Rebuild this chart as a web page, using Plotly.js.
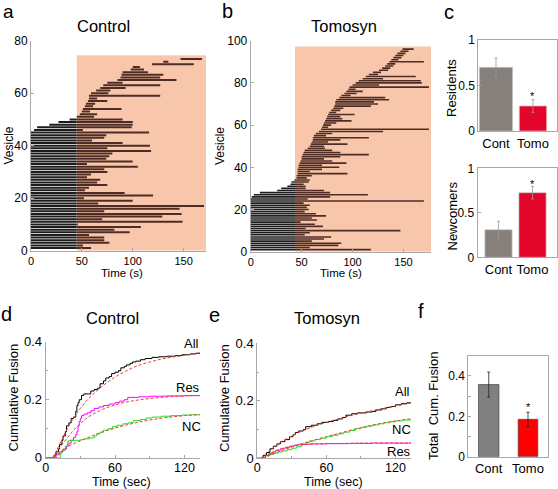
<!DOCTYPE html>
<html><head><meta charset="utf-8">
<script src="https://cdn.plot.ly/plotly-3.0.1.min.js"></script>
<style>html,body{margin:0;padding:0;background:#fff}#chart{width:558px;height:489px}</style>
</head><body><div id="chart"></div>
<script>
// ---------- DATA ----------
// Panel a (Control): per-vesicle start / end times (s)
const ctrlStart = [0,0,0,0,0,0,0,0,0,0, 0,0,0,0,0,0,0,0,0,0, 0,0,0,0,0,0,0,0,0,0, 0,0,0,0,0,0,0,0,0,0, 0,0,0,0,0,
  3,6,18,27,38, 45,48,50,51,53,54,56,57,57,59, 64,68,71,75,85,88,89,90,98,100, 119,130,147];
const ctrlEnd = [59,51,77,72,72,57,97,82,108,46, 149,70,129,148,72,146,170,66,100,52,
  120,92,53,57,75,65,68,55,59,75, 72,105,55,100,74,77,80,118,75,117, 90,60,72,74,116,
  51,99,100,100,90, 62,65,58,89,61,63,75,65,127,76, 78,93,127,90,143,127,130,115,111,107, 160,135,168];
// Panel b (Tomosyn)
const tomoStart = [0,0,0,0,0,0,0,0,0,0, 0,0,0,0,0,0,0,0,0,0, 0,0,0,0,0,
  1,3,9,26,30, 36,39,40,43,45,45,46,46,46,47, 47,48,49,50,50,51,52,53,56,58,
  59,60,61,61,62,64,67,69,70,71, 72,73,74,75,76,77,79,81,82,83, 83,84,87,89,92,94,96,97,100,103,
  106,110,113,116,120,126,129,132,134,136, 138,140,142,144,147,149];
const tomoEnd = [118,58,86,89,60,72,79,53,58,147, 54,71,63,49,65,60,74,64,53,57, 55,58,52,170,56,
  78,115,78,72,54, 54,52,57,58,55,60,95,58,70,87, 70,94,80,72,88,116,88,80,73,72,
  95,76,88,116,74,80,130,175,76,79, 84,99,90,88,102,84,88,91,118,125, 121,136,132,98,104,110,103,175,126,168,
  167,130,162,125,128,135,137,140,142,170, 145,148,150,152,155,160];
const stimOnsetA = 45, stimOnsetB = 43.5;

// Panel c bar data
const barCats = ['Cont', 'Tomo'];
const residents = [0.70, 0.275];
const residentsErr = [0.10, 0.07];
const newcomers = [0.31, 0.726];
const newcomersErr = [0.095, 0.07];
// Panel f
const totalFusion = [0.357, 0.185];
const totalFusionErr = [0.062, 0.035];

// Panel d (Control cumulative fusion)
const dAllT = [0,7,8,9,11,12,14,15,17,18,20,22,24,26,27,28,29,31,33,37,39,42,45,47,50,52,55,57,60,63,65,68,70,73,75,78,82,86,92,98,105,112,118,125,130,134];
const dAllY = [0,0,0.01,0.02,0.03,0.045,0.06,0.075,0.09,0.11,0.12,0.135,0.14,0.16,0.18,0.19,0.2,0.215,0.22,0.22,0.23,0.235,0.24,0.255,0.265,0.275,0.28,0.29,0.295,0.3,0.31,0.315,0.32,0.325,0.33,0.333,0.338,0.342,0.346,0.348,0.35,0.352,0.355,0.358,0.36,0.36];
const dAllFitT = [6,10,15,20,25,30,35,40,50,60,70,80,90,100,110,120,134];
const dAllFitY = [0,0.03,0.07,0.11,0.142,0.17,0.195,0.215,0.25,0.278,0.3,0.318,0.33,0.34,0.347,0.353,0.362];
const dResT = [0,7,9,12,15,18,20,22,24,26,27,28,29,30,31,33,36,39,42,46,50,55,60,64,68,71,80,90,105,120,134];
const dResY = [0,0,0.01,0.02,0.03,0.04,0.05,0.06,0.07,0.08,0.09,0.11,0.125,0.135,0.145,0.15,0.155,0.162,0.17,0.175,0.18,0.185,0.19,0.195,0.2,0.208,0.21,0.212,0.213,0.214,0.215];
const dResFitT = [6,10,15,20,25,30,35,40,50,60,70,80,90,100,110,120,134];
const dResFitY = [0,0.025,0.05,0.075,0.098,0.118,0.135,0.148,0.168,0.182,0.192,0.199,0.204,0.208,0.211,0.213,0.215];
const dNcT = [0,12,13,14,17,19,20,30,33,38,42,44,47,50,54,58,62,67,72,76,82,87,92,100,108,118,126,134];
const dNcY = [0,0,0.015,0.025,0.04,0.055,0.06,0.062,0.065,0.068,0.075,0.082,0.088,0.095,0.1,0.108,0.112,0.117,0.122,0.128,0.132,0.137,0.14,0.143,0.145,0.147,0.148,0.149];
const dNcFitT = [6,10,15,20,30,40,50,60,70,80,90,100,110,120,134];
const dNcFitY = [0,0.012,0.025,0.04,0.058,0.075,0.09,0.102,0.113,0.122,0.13,0.136,0.141,0.145,0.149];

// Panel e (Tomosyn cumulative fusion)
const eAllT = [0,3,5,8,11,14,17,20,24,28,31,33,36,40,42,47,52,56,62,66,70,74,77,82,87,95,100,103,108,112,116,120,125,130,134];
const eAllY = [0,0,0.01,0.02,0.033,0.042,0.05,0.058,0.065,0.075,0.082,0.09,0.095,0.1,0.11,0.115,0.12,0.125,0.128,0.132,0.137,0.142,0.15,0.155,0.158,0.161,0.163,0.168,0.172,0.177,0.18,0.186,0.19,0.193,0.196];
const eAllFitT = [3,10,20,30,40,50,60,70,80,90,100,110,120,134];
const eAllFitY = [0,0.025,0.055,0.078,0.097,0.112,0.125,0.136,0.147,0.157,0.166,0.174,0.182,0.193];
const eNcT = [0,5,7,10,14,18,22,26,30,34,38,42,45,50,55,60,65,70,75,80,85,90,95,100,105,110,115,120,126,134];
const eNcY = [0,0,0.008,0.013,0.018,0.022,0.026,0.03,0.035,0.04,0.048,0.055,0.06,0.065,0.07,0.075,0.08,0.085,0.091,0.097,0.103,0.108,0.112,0.116,0.12,0.124,0.127,0.13,0.133,0.136];
const eNcFitT = [5,20,40,60,80,100,120,134];
const eNcFitY = [0,0.025,0.052,0.075,0.096,0.115,0.13,0.138];
const eResT = [0,5,7,10,13,16,20,24,28,32,36,45,60,80,100,134];
const eResY = [0,0,0.01,0.016,0.022,0.028,0.033,0.037,0.042,0.046,0.049,0.05,0.051,0.052,0.053,0.053];
const eResFitT = [5,10,20,30,40,50,60,80,100,134];
const eResFitY = [0,0.014,0.032,0.042,0.047,0.05,0.051,0.052,0.053,0.053];

// ---------- BUILD ----------
const W = 558, H = 489;
const F = '"Liberation Sans", Arial, Helvetica, sans-serif';
const dx = (a, b) => [a / W, b / W];
const dy = (top, bot) => [1 - bot / H, 1 - top / H];

function segs(starts, ends, cut, xa, ya, lw) {
  const bx = [], by = [], rx = [], ry = [];
  for (let i = 0; i < starts.length; i++) {
    const v = i + 1, s = starts[i], e = ends[i];
    if (s < cut) { bx.push(s, Math.min(e, cut), null); by.push(v, v, null); }
    if (e > cut) { rx.push(Math.max(s, cut), e, null); ry.push(v, v, null); }
  }
  return [
    {type:'scatter', mode:'lines', x:bx, y:by, xaxis:xa, yaxis:ya, line:{color:'#1c1c1c', width:lw}, hoverinfo:'skip'},
    {type:'scatter', mode:'lines', x:rx, y:ry, xaxis:xa, yaxis:ya, line:{color:'#4e2c24', width:lw}, hoverinfo:'skip'}
  ];
}
function stepLine(t, y, color, xa, ya) {
  return {type:'scatter', mode:'lines', x:t, y:y, xaxis:xa, yaxis:ya, line:{color:color, width:1, shape:'hv'}, hoverinfo:'skip'};
}
function fitLine(t, y, xa, ya) {
  return {type:'scatter', mode:'lines', x:t, y:y, xaxis:xa, yaxis:ya, line:{color:'#e8402e', width:1, dash:'3px,2px', shape:'spline'}, hoverinfo:'skip'};
}
function bars(vals, errs, xa, ya, colors, widths, lineCol, errCol) {
  return {type:'bar', x:[1,2], y:vals, width:widths, xaxis:xa, yaxis:ya,
    marker:{color:colors, line:{color:lineCol, width:0.7}},
    error_y:{type:'data', array:errs, visible:true, color:errCol, thickness:0.8, width:1.5},
    hoverinfo:'skip'};
}

const traces = [
  ...segs(ctrlStart, ctrlEnd, stimOnsetA, 'x', 'y', 2.0),
  ...segs(tomoStart, tomoEnd, stimOnsetB, 'x2', 'y2', 1.6),
  bars(residents, residentsErr, 'x3', 'y3', ['#85807b', '#e3062a'], [0.9, 0.74], '#cfcac5', '#9a9a9a'),
  bars(newcomers, newcomersErr, 'x4', 'y4', ['#85807b', '#e3062a'], [0.8, 0.8], '#cfcac5', '#9a9a9a'),
  stepLine(dAllT, dAllY, '#000000', 'x5', 'y5'),
  stepLine(dResT, dResY, '#ff00ff', 'x5', 'y5'),
  stepLine(dNcT, dNcY, '#22dd22', 'x5', 'y5'),
  fitLine(dAllFitT, dAllFitY, 'x5', 'y5'),
  fitLine(dResFitT, dResFitY, 'x5', 'y5'),
  fitLine(dNcFitT, dNcFitY, 'x5', 'y5'),
  stepLine(eAllT, eAllY, '#000000', 'x6', 'y6'),
  stepLine(eNcT, eNcY, '#22dd22', 'x6', 'y6'),
  stepLine(eResT, eResY, '#ff00ff', 'x6', 'y6'),
  fitLine(eAllFitT, eAllFitY, 'x6', 'y6'),
  fitLine(eNcFitT, eNcFitY, 'x6', 'y6'),
  fitLine(eResFitT, eResFitY, 'x6', 'y6'),
  bars(totalFusion, totalFusionErr, 'x7', 'y7', ['#808080', '#ff0000'], [0.52, 0.5], '#444444', '#222222')
];

const AX = '#a8a8a8';
function ax(extra) {
  return Object.assign({showline:true, linecolor:AX, linewidth:1, ticks:'inside', ticklen:3, tickcolor:AX,
    showgrid:false, zeroline:false, fixedrange:true, tickfont:{family:F, size:12, color:'#000'}}, extra);
}
const f11 = {family:F, size:11, color:'#000'};
const f125 = {family:F, size:12.5, color:'#000'};

const layout = {
  width:W, height:H, margin:{l:0, r:0, t:0, b:0}, showlegend:false,
  paper_bgcolor:'#fff', plot_bgcolor:'rgba(0,0,0,0)', font:{family:F, color:'#000'},
  barmode:'group',
  xaxis: ax({domain:dx(31,206), range:[0,172], tickvals:[0,50,100,150], anchor:'y', tickfont:f11}),
  yaxis: ax({domain:dy(40.7,250.7), range:[0,80], tickvals:[0,20,40,60,80], anchor:'x'}),
  xaxis2: ax({domain:dx(250.7,431), range:[0,177], tickvals:[0,50,100,150], anchor:'y2', tickfont:f11}),
  yaxis2: ax({domain:dy(40.7,251.7), range:[0,100], tickvals:[0,20,40,60,80,100], anchor:'x2'}),
  xaxis3: ax({domain:dx(478.3,557.3), range:[0.522,2.657], tickvals:[1,2], ticktext:barCats, ticks:'', mirror:true, anchor:'y3', tickfont:{family:F, size:13, color:'#000'}}),
  yaxis3: ax({domain:dy(40,131), range:[0,1], tickvals:[0,0.5,1], ticktext:['0','0.5','1'], mirror:true, anchor:'x3'}),
  xaxis4: ax({domain:dx(477.5,557), range:[0.383,2.72], tickvals:[1,2], ticktext:barCats, ticks:'', mirror:true, anchor:'y4', tickfont:{family:F, size:13, color:'#000'}}),
  yaxis4: ax({domain:dy(168.3,257.3), range:[0,1], tickvals:[0,0.5,1], ticktext:['0','0.5','1'], mirror:true, anchor:'x4'}),
  xaxis5: ax({domain:dx(45.7,200), range:[0,133.5], tickvals:[0,60,120], anchor:'y5', tickfont:f125, ticklabelstandoff:-2, minor:{dtick:30, ticks:'inside', ticklen:2, tickcolor:AX}}),
  yaxis5: ax({domain:dy(341.7,457.7), range:[0,0.4], tickvals:[0,0.2,0.4], ticktext:['0','0.2','0.4'], anchor:'x5', tickfont:{family:F, size:13, color:'#000'}, minor:{dtick:0.1, ticks:'inside', ticklen:2, tickcolor:AX}}),
  xaxis6: ax({domain:dx(257.3,411), range:[0,133.5], tickvals:[0,60,120], anchor:'y6', tickfont:f125, ticklabelstandoff:-2, minor:{dtick:30, ticks:'inside', ticklen:2, tickcolor:AX}}),
  yaxis6: ax({domain:dy(343.3,458.3), range:[0,0.4], tickvals:[0,0.2,0.4], ticktext:['0','0.2','0.4'], anchor:'x6', tickfont:{family:F, size:13, color:'#000'}, minor:{dtick:0.1, ticks:'inside', ticklen:2, tickcolor:AX}}),
  xaxis7: ax({domain:dx(468.3,548.3), range:[0.48,2.517], tickvals:[1,2], ticktext:barCats, ticks:'', mirror:true, anchor:'y7', tickfont:{family:F, size:13, color:'#000'}}),
  yaxis7: ax({domain:dy(355.7,456.7), range:[0,0.5], tickvals:[0,0.1,0.2,0.3,0.4], ticktext:['0','','0.2','','0.4'], mirror:true, anchor:'x7'}),
  shapes: [
    {type:'rect', xref:'x', yref:'y', x0:stimOnsetA, x1:172, y0:0, y1:74.5, fillcolor:'#f8c7ab', line:{width:0}, layer:'below'},
    {type:'rect', xref:'x2', yref:'y2', x0:stimOnsetB, x1:177, y0:0, y1:97.2, fillcolor:'#f8c7ab', line:{width:0}, layer:'below'}
  ],
  annotations: []
};

function ann(text, px, py, size, extra) {
  layout.annotations.push(Object.assign({text:text, xref:'paper', yref:'paper', x:px / W, y:1 - py / H,
    xanchor:'center', yanchor:'middle', showarrow:false, font:{family:F, size:size, color:'#000'}}, extra || {}));
}
// panel letters
layout.annotations.push({text:'a', xref:'paper', yref:'paper', x:8 / W, y:1, xanchor:'center', yanchor:'top',
  borderpad:0, showarrow:false, font:{family:F, size:19, color:'#000'}});
ann('b', 227, 11, 20); ann('c', 449, 11.5, 20);
ann('d', 6, 314, 20); ann('e', 214, 315, 20); ann('f', 421, 311, 20);
// titles
ann('Control', 103, 26, 16.5); ann('Tomosyn', 344, 26, 16.5);
ann('Control', 112, 318, 16.5); ann('Tomosyn', 327, 318, 16.5);
// axis titles
ann('Vesicle', 8.5, 146, 12, {textangle:-90});
ann('Time (s)', 121.5, 273, 11.5);
ann('Vesicle', 220, 146, 12, {textangle:-90});
ann('Time (s)', 341, 273, 11.5);
ann('Residents', 451.5, 87.5, 13, {textangle:-90});
ann('Newcomers', 451.5, 216, 13, {textangle:-90});
ann('Cumulative Fusion', 12.5, 398, 13, {textangle:-90});
ann('Time (sec)', 121, 481.5, 12.5);
ann('Cumulative Fusion', 224, 398, 13, {textangle:-90});
ann('Time (sec)', 333.5, 481.5, 12.5);
ann('Total  Cum. Fusion', 433.5, 406.5, 13, {textangle:-90});
// curve labels
ann('All', 191, 343, 13); ann('Res', 188, 387, 13); ann('NC', 191, 426, 13);
ann('All', 402, 391, 13); ann('NC', 401, 429, 13); ann('Res', 399, 451, 13);
// significance asterisks
layout.annotations.push({text:'*', xref:'x3', yref:'y3', x:2, y:0.38, showarrow:false, font:{family:F, size:11, color:'#000'}});
layout.annotations.push({text:'*', xref:'x4', yref:'y4', x:2, y:0.82, showarrow:false, font:{family:F, size:11, color:'#000'}});
layout.annotations.push({text:'*', xref:'x7', yref:'y7', x:2, y:0.244, showarrow:false, font:{family:F, size:11, color:'#000'}});

Plotly.newPlot('chart', traces, layout, {staticPlot:true, displayModeBar:false});
</script></body></html>
